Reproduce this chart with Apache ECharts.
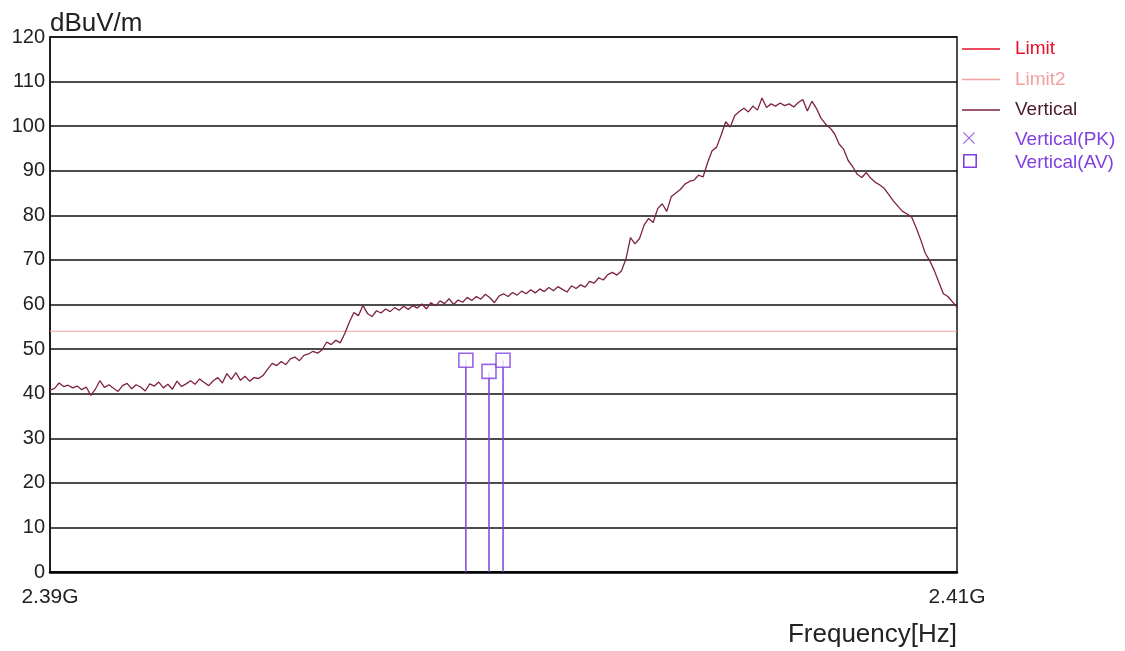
<!DOCTYPE html>
<html>
<head>
<meta charset="utf-8">
<script src="https://cdn.jsdelivr.net/npm/echarts@6/dist/echarts.min.js"></script>
<style>
html,body{margin:0;padding:0;background:#fff;}
#chart{width:1125px;height:651px;}
</style>
</head>
<body>
<div id="chart"></div>
<script>
// ---- data ----
// sweep grid (MHz): start and step of the analyzer trace
const sweepStartMHz = 2390;
const sweepStepMHz = 0.1;
// Vertical trace levels (dBuV/m), one per sweep point
const verticalLevels = [
  40.8, 41.2, 42.4, 41.6, 41.9, 41.3, 41.7, 40.9, 41.5, 39.6,
  41.0, 42.9, 41.4, 42.0, 41.2, 40.5, 41.8, 42.3, 41.1, 42.0,
  41.5, 40.6, 42.2, 41.7, 42.6, 41.3, 42.1, 41.0, 42.8, 41.6,
  42.2, 42.9, 42.1, 43.3, 42.5, 41.8, 42.9, 43.6, 42.4, 44.5,
  43.2, 44.7, 43.0, 43.9, 42.8, 43.6, 43.4, 44.1, 45.5, 46.8,
  46.3, 47.2, 46.5, 47.8, 48.2, 47.4, 48.6, 48.9, 49.5, 49.1,
  49.8, 51.6, 51.0, 52.0, 51.4, 53.5, 56.0, 58.2, 57.5, 59.8,
  58.0, 57.3, 58.6, 58.1, 59.0, 58.4, 59.3, 58.7, 59.6, 58.9,
  59.8, 59.2, 60.1, 59.0, 60.4, 59.7, 60.8, 60.2, 61.3, 60.0,
  61.0, 60.5, 61.6, 60.9, 61.8, 61.2, 62.3, 61.5, 60.4, 61.9,
  62.4, 61.8, 62.7, 62.1, 63.0, 62.4, 63.3, 62.6, 63.5, 62.9,
  63.8, 63.1, 64.0, 63.4, 62.8, 64.2, 63.6, 64.4, 63.9, 65.2,
  64.8, 66.0, 65.5, 66.7, 67.2, 66.6, 67.5, 70.2, 75.0, 73.6,
  74.8, 77.8, 79.3, 78.4, 81.5, 82.6, 80.9, 84.2, 85.0, 85.8,
  87.0, 87.6, 87.9, 89.0, 88.6, 91.8, 94.5, 95.3, 98.0, 101.0,
  99.8, 102.4, 103.3, 104.0, 103.2, 104.5, 103.6, 106.3, 104.2, 105.0,
  104.5, 105.2, 104.6, 105.0, 104.3, 105.3, 106.0, 103.4, 105.6, 104.0,
  101.8, 100.5, 99.6, 98.3, 96.0, 94.8, 92.3, 90.9, 89.2, 88.5,
  89.6, 88.3, 87.4, 86.8, 86.0, 84.6, 83.2, 82.0, 80.9, 80.3,
  79.6, 77.2, 74.5, 71.5, 69.8, 67.6, 65.0, 62.4, 61.8, 60.6,
  59.4
];
// limits
const limitPoints = [];                       // Limit: not drawn in this span
const limit2Freq = [2390, 2410];
const limit2Level = [54, 54];
// peak / average markers
const pkFreq = [];
const pkLevel = [];
const avFreq = [2399.17, 2399.68, 2399.99];
const avLevel = [47.5, 45.0, 47.5];
// axis
const xTickLabels = {2390: '2.39G', 2410: '2.41G'};
const yMin = 0, yMax = 120, yStep = 10;
const yUnit = 'dBuV/m';
const xTitle = 'Frequency[Hz]';

// ---- build ----
const verticalData = verticalLevels.map((v, i) => [sweepStartMHz + i * sweepStepMHz, v]);
const limit2Data = limit2Freq.map((f, i) => [f, limit2Level[i]]);
const pkData = pkFreq.map((f, i) => [f, pkLevel[i]]);
const avData = avFreq.map((f, i) => [f, avLevel[i]]);

const C_LIMIT = '#e8102a', C_LIMIT2 = '#f2a0a0', C_VERT = '#7e2242', C_MARK = '#8040e0';
const FONT = 'Liberation Sans, Arial, sans-serif';
const LINE_ICON = 'path://M0,0M48,14M0,6.3H38V7.7H0Z';

const chart = echarts.init(document.getElementById('chart'), null, {renderer: 'canvas'});
chart.setOption({
  animation: false,
  backgroundColor: '#fff',
  grid: {left: 50, right: 168, top: 37, bottom: 79, show: true, borderColor: '#111', borderWidth: 1.5, containLabel: false},
  xAxis: {
    type: 'value', min: 2390, max: 2410, interval: 10,
    axisLine: {show: true, onZero: false, lineStyle: {color: '#000', width: 2.5}},
    axisTick: {show: false},
    splitLine: {show: false},
    axisLabel: {
      color: '#222', fontSize: 21, fontFamily: FONT, margin: 15,
      formatter: v => xTickLabels[Math.round(v)] || ''
    }
  },
  yAxis: {
    type: 'value', min: yMin, max: yMax, interval: yStep,
    axisLine: {show: true, lineStyle: {color: '#111', width: 1.5}},
    axisTick: {show: false},
    splitLine: {show: true, lineStyle: {color: '#111', width: 1.5}},
    axisLabel: {color: '#222', fontSize: 20, fontFamily: FONT, margin: 5}
  },
  graphic: [{
    type: 'text', left: 50, top: 11,
    style: {text: yUnit, fill: '#222', font: '26px ' + FONT}
  }, {
    type: 'text', right: 168, top: 622,
    style: {text: xTitle, fill: '#222', font: '26px ' + FONT}
  }],
  legend: [{
    orient: 'vertical', left: 957, top: 34.5, itemWidth: 48, itemHeight: 14, itemGap: 11.5,
    selectedMode: false,
    textStyle: {fontSize: 19, fontFamily: FONT},
    data: [
      {name: 'Limit', icon: LINE_ICON, itemStyle: {color: C_LIMIT, borderWidth: 0}, textStyle: {color: C_LIMIT}},
      {name: 'Limit2', icon: LINE_ICON, itemStyle: {color: C_LIMIT2, borderWidth: 0}, textStyle: {color: C_LIMIT2}},
      {name: 'Vertical', icon: LINE_ICON, itemStyle: {color: C_VERT, borderWidth: 0}, textStyle: {color: '#4a1a2a'}}
    ]
  }, {
    orient: 'vertical', left: 957, top: 125.5, itemWidth: 48, itemHeight: 18, itemGap: 4,
    selectedMode: false,
    textStyle: {fontSize: 19, fontFamily: FONT},
    data: [
      {name: 'Vertical(PK)', textStyle: {color: C_MARK},
       icon: 'path://M0,0M48,18M1,1.85L1.85,1L13,12.15L12.15,13ZM12.15,1L13,1.85L1.85,13L1,12.15Z',
       itemStyle: {color: C_MARK, borderWidth: 0}},
      {name: 'Vertical(AV)', textStyle: {color: C_MARK},
       icon: 'path://M0,0M48,18M1,0H15V14H1ZM2.6,1.6V12.4H13.4V1.6Z',
       itemStyle: {color: C_MARK, borderWidth: 0}}
    ]
  }],
  series: [
    {name: 'Limit', type: 'line', data: limitPoints, symbol: 'none', lineStyle: {color: C_LIMIT, width: 1.5}, itemStyle: {color: C_LIMIT}},
    {name: 'Limit2', type: 'line', data: limit2Data, symbol: 'none', lineStyle: {color: C_LIMIT2, width: 1.2}, itemStyle: {color: C_LIMIT2}, z: 3},
    {name: 'Vertical', type: 'line', data: verticalData, symbol: 'none', lineStyle: {color: C_VERT, width: 1.3}, itemStyle: {color: C_VERT}, z: 4},
    {name: 'Vertical(PK)', type: 'scatter', data: pkData, symbol: 'rect', symbolSize: 12, itemStyle: {color: C_MARK}},
    {
      name: 'Vertical(AV)', type: 'custom', data: avData, z: 5,
      itemStyle: {color: C_MARK},
      renderItem: (params, api) => {
        const top = api.coord([api.value(0), api.value(1)]);
        const base = api.coord([api.value(0), 0]);
        return {type: 'line', shape: {x1: base[0], y1: base[1], x2: top[0], y2: top[1]},
                style: {stroke: C_MARK, lineWidth: 1.5}};
      }
    },
    {name: 'Vertical(AV)', type: 'scatter', data: avData, z: 6, symbol: 'rect', symbolSize: 14,
     itemStyle: {color: '#fff', borderColor: C_MARK, borderWidth: 1.6}}
  ]
});
</script>
</body>
</html>
